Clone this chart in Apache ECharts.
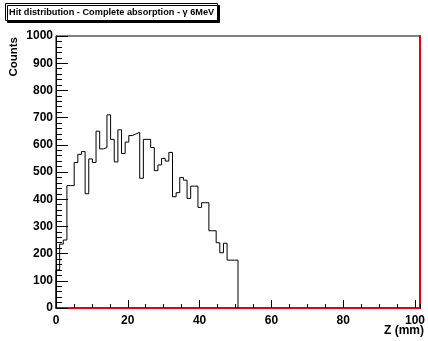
<!DOCTYPE html>
<html><head><meta charset="utf-8">
<script src="https://cdn.jsdelivr.net/npm/echarts@6/dist/echarts.min.js"></script>
<style>html,body{margin:0;padding:0;background:#fff}#c{width:428px;height:341px}</style>
</head><body><div id="c"></div>
<script>
// ---- data ----
const titleText = 'Hit distribution - Complete absorption - \u03b3 6MeV';
const xTitle = 'Z (mm)';
const yTitle = 'Counts';
const xMin = 0, xMax = 101.4, nBins = 100;      // histogram range and bin count
const yMin = 0, yMax = 1000;
const xMajorTicks = [0, 20, 40, 60, 80, 100];
const xMinorStep = 5;
const yMajorStep = 100;
// bin contents (bins 0..49; remaining bins are empty)
const counts = [140, 235, 250, 450, 450, 535, 565, 575, 420, 548,
                535, 650, 585, 590, 710, 620, 537, 655, 568, 610,
                634, 640, 646, 477, 620, 620, 590, 505, 526, 550,
                540, 572, 409, 424, 480, 470, 403, 448, 448, 370,
                387, 387, 284, 284, 240, 203, 238, 176, 176, 176];

// ---- build step outline from bins ----
const binWidth = (xMax - xMin) / nBins;
const outline = [[xMin, 0]];
counts.forEach((v, i) => outline.push([xMin + i * binWidth, v]));
outline.push([xMin + counts.length * binWidth, 0]);

const FONT = 'Liberation Sans, Arial, Helvetica, sans-serif';
const RED = '#e8000b';
const chart = echarts.init(document.getElementById('c'), null, {renderer: 'canvas'});
chart.setOption({
  animation: false,
  backgroundColor: '#fff',
  title: {
    text: titleText, left: 5, top: 3, padding: [5, 4, 4, 4],
    backgroundColor: '#fff', borderColor: '#000', borderWidth: 1,
    shadowColor: '#000', shadowOffsetX: 2, shadowOffsetY: 2, shadowBlur: 0,
    textStyle: {fontFamily: FONT, fontWeight: 'bold', fontSize: 9.2, color: '#000'}
  },
  grid: {left: 56, top: 36, right: 4, bottom: 33, show: true,
         borderColor: '#000', borderWidth: 1, backgroundColor: 'transparent'},
  xAxis: [{
    type: 'value', position: 'bottom', min: xMin, max: xMax,
    axisLine: {show: true, onZero: false, lineStyle: {color: RED, width: 2}},
    axisTick: {show: true, inside: true, length: 8, customValues: xMajorTicks, lineStyle: {color: '#000', width: 1}},
    axisLabel: {show: true, customValues: xMajorTicks, margin: 7, fontFamily: FONT, fontWeight: 'bold', fontSize: 12, color: '#000'},
    splitLine: {show: false}
  }, {
    type: 'value', position: 'bottom', min: xMin, max: xMax, interval: xMinorStep,
    axisLine: {show: false, onZero: false},
    axisTick: {show: true, inside: true, length: 4, lineStyle: {color: '#000', width: 1}},
    axisLabel: {show: false}, splitLine: {show: false}
  }],
  yAxis: [{
    type: 'value', position: 'left', min: yMin, max: yMax, interval: yMajorStep,
    axisLine: {show: true, onZero: false, lineStyle: {color: '#000', width: 1}},
    axisTick: {show: true, inside: true, length: 12, lineStyle: {color: '#000', width: 1}},
    minorTick: {show: true, splitNumber: 5, length: 6, lineStyle: {color: '#000', width: 1}},
    axisLabel: {margin: 3, fontFamily: FONT, fontWeight: 'bold', fontSize: 12, color: '#000',
                formatter: v => String(v)},
    splitLine: {show: false}, minorSplitLine: {show: false}
  }, {
    type: 'value', position: 'right', min: yMin, max: yMax,
    axisLine: {show: true, onZero: false, lineStyle: {color: RED, width: 2}},
    axisTick: {show: false}, axisLabel: {show: false}, splitLine: {show: false}
  }],
  graphic: [{
    type: 'text', x: 14, y: 37, rotation: Math.PI / 2,
    style: {text: yTitle, font: 'bold 11.5px ' + FONT, fill: '#000', textAlign: 'right', textVerticalAlign: 'middle'}
  }, {
    type: 'text', x: 424, y: 331,
    style: {text: xTitle, font: 'bold 12px ' + FONT, fill: '#000', textAlign: 'right', textVerticalAlign: 'middle'}
  }],
  series: [{
    type: 'line', step: 'end', xAxisIndex: 0, yAxisIndex: 0,
    data: outline, showSymbol: false, symbol: 'none',
    lineStyle: {color: '#000', width: 1}, z: 1
  }]
});
</script></body></html>
